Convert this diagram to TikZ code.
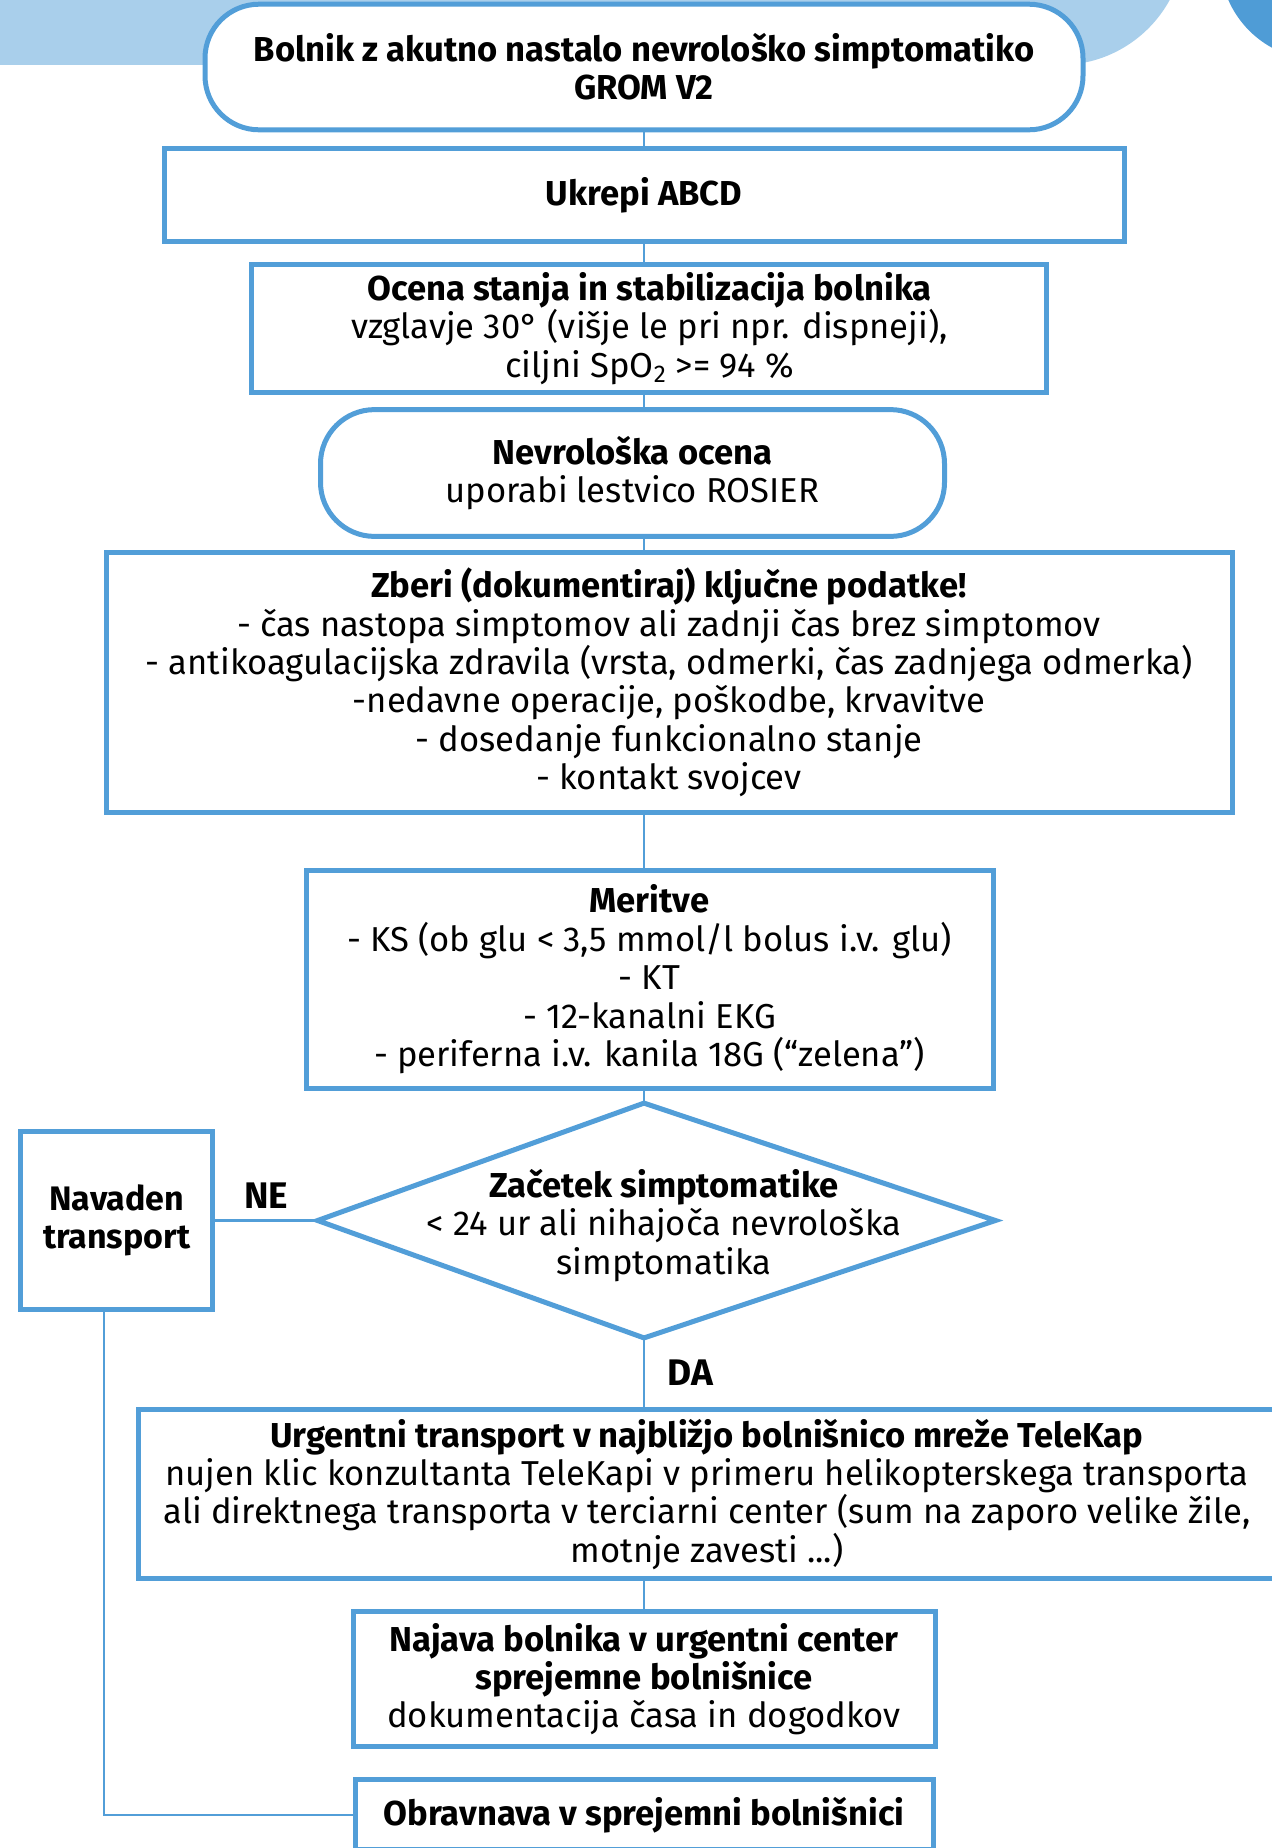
\documentclass[tikz,border=0pt]{standalone}
\usepackage{fontspec}
\setmainfont{Fira Sans}
\usetikzlibrary{positioning}

\definecolor{flowblue}{HTML}{529ED8}
\definecolor{paleblue}{HTML}{A9CFEB}
\definecolor{deepblue}{HTML}{4F9CD6}

\tikzset{
	box/.style={draw=flowblue, line width=2.5pt, fill=white, align=center, inner sep=3pt,
		font=\fontsize{17.3}{19.2}\selectfont},
	terminal/.style={box, rounded corners=27pt},
	decision/.style={draw=flowblue, line width=2.5pt, fill=white, line join=miter},
	link/.style={draw=flowblue, line width=1.2pt},
	answer/.style={font=\bfseries\fontsize{18.5}{20}\selectfont}
}

\begin{document}
\begin{tikzpicture}[x=0.5pt, y=-0.5pt]
	\useasboundingbox (0,0) rectangle (1271,1848);
	% background decoration
	\fill[paleblue] (0,0) rectangle (1060,65);
	\fill[paleblue] (1060,-60) circle[radius=62.5pt];
	\fill[deepblue] (1320,-40) circle[radius=50pt];

	\node[terminal, minimum width=439pt, minimum height=62.8pt] (start) at (644,67)
		{\textbf{Bolnik z akutno nastalo nevrološko simptomatiko}\\\textbf{GROM V2}};
	\node[box, minimum width=480pt, minimum height=46.2pt] (abcd) [below=7pt of start] {\textbf{Ukrepi ABCD}};
	\node[box, minimum width=397.5pt, minimum height=63.8pt] (ocena) [below=9.2pt of abcd, xshift=2.7pt]
		{\textbf{Ocena stanja in stabilizacija bolnika}\\vzglavje 30° (višje le pri npr. dispneji),\\ciljni SpO\textsubscript{2} >= 94 \%};
	\node[terminal, minimum width=312pt, minimum height=63.4pt] (nevro) [below=6.2pt of ocena, xshift=-8.45pt]
		{\textbf{Nevrološka ocena}\\uporabi lestvico ROSIER};
	\node[box, minimum width=563pt, minimum height=129.8pt] (zberi) [below=5.6pt of nevro, xshift=18.25pt]
		{\textbf{Zberi (dokumentiraj) ključne podatke!}\\- čas nastopa simptomov ali zadnji čas brez simptomov\\
		- antikoagulacijska zdravila (vrsta, odmerki, čas zadnjega odmerka)\\-nedavne operacije, poškodbe, krvavitve\\
		- dosedanje funkcionalno stanje\\- kontakt svojcev};
	\node[box, minimum width=343.5pt, minimum height=108.8pt] (meritve) [below=26.7pt of zberi, xshift=-9.75pt]
		{\textbf{Meritve}\\- KS (ob glu < 3,5 mmol/l bolus i.v. glu)\\- KT\\- 12-kanalni EKG\\- periferna i.v. kanila 18G (“zelena”)};
	\node[minimum width=326pt, minimum height=117pt, inner sep=0pt] (cond) [below=6.2pt of meritve, xshift=-2.75pt] {};
	\draw[decision] (cond.north) -- ([xshift=12.5pt]cond.east) -- (cond.south) -- (cond.west) -- cycle;
	\node[align=center, font=\fontsize{17.3}{19.2}\selectfont] (condtext) at ([xshift=10pt, yshift=-2.5pt]cond.center)
		{\textbf{Začetek simptomatike}\\< 24 ur ali nihajoča nevrološka\\simptomatika};
	\node[box, minimum width=96pt, minimum height=89pt, font=\bfseries\fontsize{17}{19.2}\selectfont] (navaden) [left=51.2pt of cond]
		{Navaden\\transport};
	\node[box, minimum width=569pt, minimum height=84.4pt] (urgent) [below=34.7pt of cond, xshift=31.5pt]
		{\textbf{Urgentni transport v najbližjo bolnišnico mreže TeleKap}\\nujen klic konzultanta TeleKapi v primeru helikopterskega transporta\\
		ali direktnega transporta v terciarni center (sum na zaporo velike žile,\\motnje zavesti ...)};
	\node[box, minimum width=291pt, minimum height=67.4pt] (najava) [below=14.1pt of urgent, xshift=-31.5pt]
		{\textbf{Najava bolnika v urgentni center}\\\textbf{sprejemne bolnišnice}\\dokumentacija časa in dogodkov};
	\node[box, minimum width=289pt, minimum height=35pt] (obrav) [below=14.1pt of najava]
		{\textbf{Obravnava v sprejemni bolnišnici}};

	\path [link] (start) -- (abcd);
	\path [link] (start |- abcd.south) -- (start |- ocena.north);
	\path [link] (start |- ocena.south) -- (start |- nevro.north);
	\path [link] (start |- nevro.south) -- (start |- zberi.north);
	\path [link] (start |- zberi.south) -- (start |- meritve.north);
	\path [link] (start |- meritve.south) -- (cond.north);
	\path [link] (cond.west) -- node [answer, midway, above=2pt] {NE} (navaden.east);
	\path [link] (cond.south) -- node [answer, midway, right=8pt] {DA} (cond.south |- urgent.north);
	\path [link] (start |- urgent.south) -- (start |- najava.north);
	\path [link] ([xshift=-6.5pt]navaden.south) |- (obrav.west);
\end{tikzpicture}
\end{document}
